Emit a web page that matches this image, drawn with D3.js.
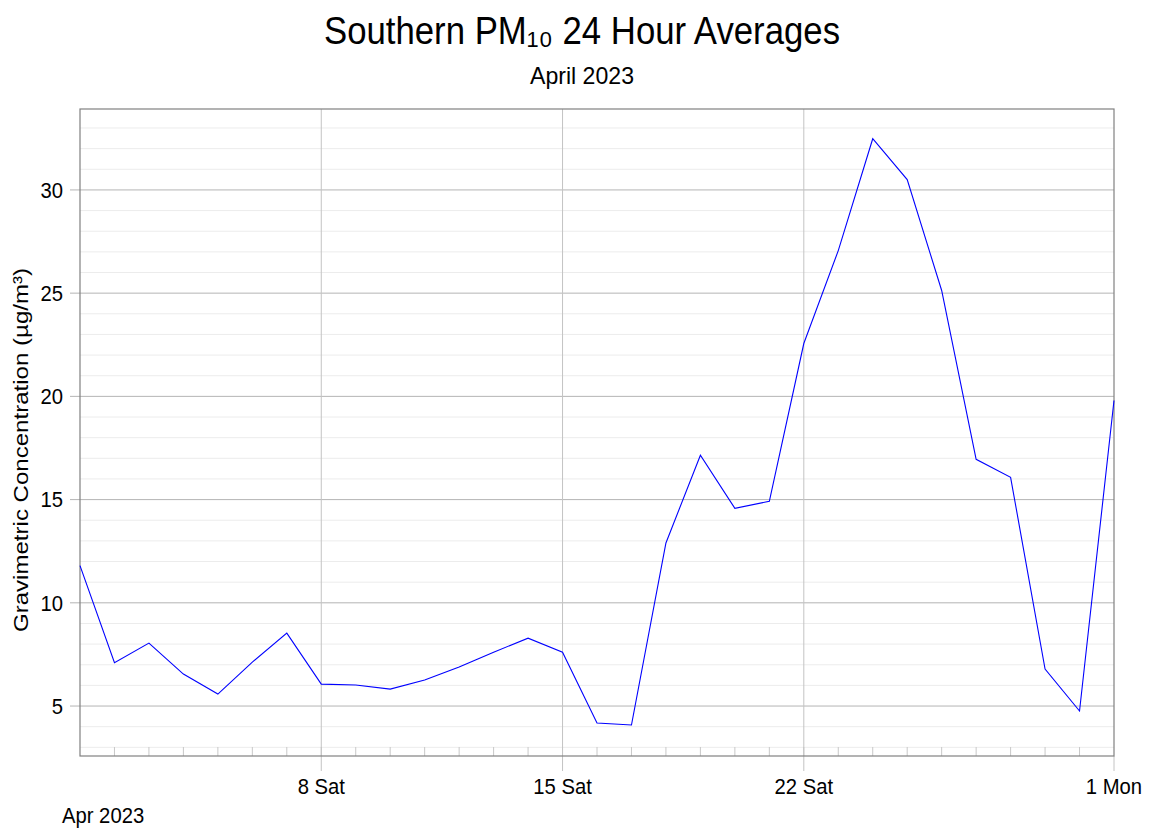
<!DOCTYPE html>
<html>
<head>
<meta charset="utf-8">
<script src="https://cdn.jsdelivr.net/npm/d3@7"></script>
<style>
  body { margin: 0; background: #fff; }
  text { font-family: "Liberation Sans", Arial, sans-serif; fill: #000; }
</style>
</head>
<body>
<svg width="1149" height="829"></svg>
<script>
//data - daily PM10 averages, April 2023 + 1 May
var days = ['2023-04-01','2023-04-02','2023-04-03','2023-04-04','2023-04-05','2023-04-06','2023-04-07',
    '2023-04-08','2023-04-09','2023-04-10','2023-04-11','2023-04-12','2023-04-13','2023-04-14',
    '2023-04-15','2023-04-16','2023-04-17','2023-04-18','2023-04-19','2023-04-20','2023-04-21',
    '2023-04-22','2023-04-23','2023-04-24','2023-04-25','2023-04-26','2023-04-27','2023-04-28',
    '2023-04-29','2023-04-30','2023-05-01'];
var pm10 = [11.8, 7.1, 8.05, 6.55, 5.58, 7.13, 8.53,
    6.06, 6.02, 5.82, 6.26, 6.89, 7.61, 8.29,
    7.61, 4.18, 4.08, 12.9, 17.15, 14.58, 14.92,
    22.56, 27.06, 32.48, 30.5, 25.13, 16.95, 16.08,
    6.79, 4.76, 19.8];
var yTicks = [5, 10, 15, 20, 25, 30];
var xTickDays = ['2023-04-08','2023-04-15','2023-04-22','2023-05-01'];
var xTickLabels = ['8 Sat', '15 Sat', '22 Sat', '1 Mon'];

var parseDay = d3.timeParse('%Y-%m-%d');
var dataset = days.map(function(d, i) { return {date: parseDay(d), value: pm10[i]}; });

//svg setup
var svg = d3.select('svg');
var svgWidth = +svg.attr('width');
var svgHeight = +svg.attr('height');
var padding = {t: 109, r: 35, b: 73, l: 80};
var chartWidth = svgWidth - padding.l - padding.r;
var chartHeight = svgHeight - padding.t - padding.b;

var chartG = svg.append('g')
    .attr('transform', 'translate(' + [padding.l, padding.t] + ')');

// squeeze text horizontally so it looks like the narrow face of the original
function narrow(sel, k) {
    sel.each(function() {
        var w = this.getComputedTextLength();
        d3.select(this)
            .attr('textLength', w * k)
            .attr('lengthAdjust', 'spacingAndGlyphs');
    });
}

//scales
var xScale = d3.scaleTime()
    .domain([parseDay('2023-04-01'), parseDay('2023-05-01')])
    .range([0, chartWidth]);
var yScale = d3.scaleLinear()
    .domain([2.58, 33.92])
    .range([chartHeight, 0]);

//minor horizontal grid (every 1 unit)
var minorY = d3.range(3, 34).filter(function(v) { return v % 5 !== 0; });
chartG.selectAll('.minor-grid')
    .data(minorY)
    .enter().append('line')
    .attr('class', 'minor-grid')
    .attr('x1', 0).attr('x2', chartWidth)
    .attr('y1', function(d) { return yScale(d); })
    .attr('y2', function(d) { return yScale(d); })
    .attr('stroke', '#ececec')
    .attr('stroke-width', 1);

//major horizontal grid
chartG.selectAll('.major-grid')
    .data(yTicks)
    .enter().append('line')
    .attr('class', 'major-grid')
    .attr('x1', -10).attr('x2', chartWidth)
    .attr('y1', function(d) { return yScale(d); })
    .attr('y2', function(d) { return yScale(d); })
    .attr('stroke', '#b4b4b4')
    .attr('stroke-width', 1);

//day ticks along the bottom
var allDays = d3.timeDay.range(parseDay('2023-04-02'), parseDay('2023-05-01'));
chartG.selectAll('.day-tick')
    .data(allDays)
    .enter().append('line')
    .attr('class', 'day-tick')
    .attr('x1', function(d) { return xScale(d); })
    .attr('x2', function(d) { return xScale(d); })
    .attr('y1', chartHeight)
    .attr('y2', chartHeight - 9)
    .attr('stroke', '#c8c8c8')
    .attr('stroke-width', 1);

//week grid lines
var weekDates = xTickDays.map(parseDay);
chartG.selectAll('.week-grid')
    .data(weekDates.slice(0, 3))
    .enter().append('line')
    .attr('class', 'week-grid')
    .attr('x1', function(d) { return xScale(d); })
    .attr('x2', function(d) { return xScale(d); })
    .attr('y1', 0)
    .attr('y2', chartHeight + 15)
    .attr('stroke', '#c4c4c4')
    .attr('stroke-width', 1);
chartG.append('line')
    .attr('x1', xScale(weekDates[3])).attr('x2', xScale(weekDates[3]))
    .attr('y1', chartHeight).attr('y2', chartHeight + 15)
    .attr('stroke', '#c4c4c4');

//frame
chartG.append('rect')
    .attr('x', 0).attr('y', 0)
    .attr('width', chartWidth).attr('height', chartHeight)
    .attr('fill', 'none')
    .attr('stroke', '#808080')
    .attr('stroke-width', 1.2);

//data line
var line = d3.line()
    .x(function(d) { return xScale(d.date); })
    .y(function(d) { return yScale(d.value); });
chartG.append('path')
    .datum(dataset)
    .attr('d', line)
    .attr('fill', 'none')
    .attr('stroke', '#0000ff')
    .attr('stroke-width', 1.1);

//y tick labels
chartG.selectAll('.ytick')
    .data(yTicks)
    .enter().append('text')
    .attr('class', 'ytick')
    .attr('x', -17)
    .attr('y', function(d) { return yScale(d); })
    .attr('dy', '0.35em')
    .attr('text-anchor', 'end')
    .style('font-size', '22px')
    .text(function(d) { return d; })
    .call(narrow, 0.92);

//x tick labels
chartG.selectAll('.xtick')
    .data(weekDates)
    .enter().append('text')
    .attr('class', 'xtick')
    .attr('x', function(d) { return xScale(d); })
    .attr('y', chartHeight + 38)
    .attr('text-anchor', 'middle')
    .style('font-size', '22px')
    .text(function(d, i) { return xTickLabels[i]; })
    .call(narrow, 0.92);

chartG.append('text')
    .attr('x', -18)
    .attr('y', chartHeight + 67)
    .style('font-size', '22px')
    .text('Apr 2023')
    .call(narrow, 0.92);

//axis title
svg.append('text')
    .attr('transform', 'translate(' + [28, 450] + ')rotate(270)')
    .attr('text-anchor', 'middle')
    .style('font-size', '20px')
    .attr('textLength', 364)
    .attr('lengthAdjust', 'spacingAndGlyphs')
    .text('Gravimetric Concentration (\u00b5g/m\u00b3)');

//title (subscript 10 as unicode so it stays one text)
svg.append('text')
    .attr('x', 582)
    .attr('y', 44)
    .attr('text-anchor', 'middle')
    .style('font-size', '38px')
    .attr('textLength', 516)
    .attr('lengthAdjust', 'spacingAndGlyphs')
    .text('Southern PM\u2081\u2080 24 Hour Averages');

svg.append('text')
    .attr('x', 582)
    .attr('y', 84)
    .attr('text-anchor', 'middle')
    .style('font-size', '24px')
    .attr('textLength', 104)
    .attr('lengthAdjust', 'spacingAndGlyphs')
    .text('April 2023');
</script>
</body>
</html>
